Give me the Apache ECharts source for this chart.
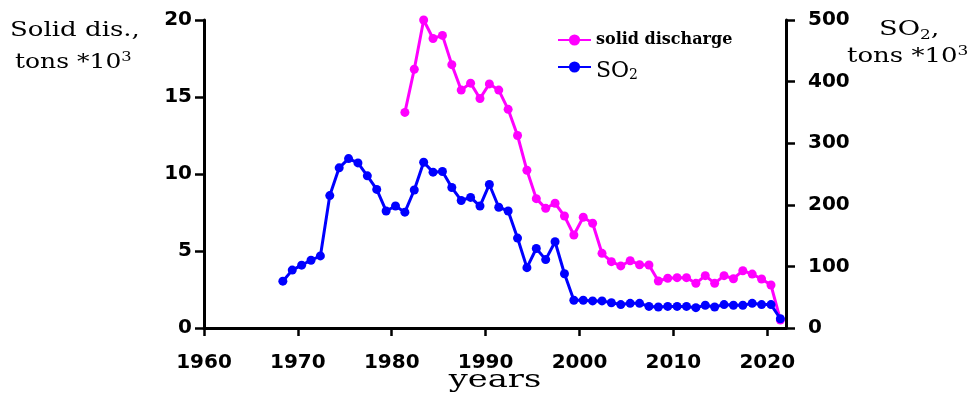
<!DOCTYPE html>
<html>
<head>
<meta charset="utf-8">
<script src="https://cdn.jsdelivr.net/npm/echarts@6/dist/echarts.min.js"></script>
<style>html,body{margin:0;padding:0;background:#fff}#c{width:972px;height:394px}</style>
</head>
<body>
<div id="c"></div>
<script>
// ---- data ----
const so2Years = [1968,1969,1970,1971,1972,1973,1974,1975,1976,1977,1978,1979,1980,1981,1982,1983,1984,1985,1986,1987,1988,1989,1990,1991,1992,1993,1994,1995,1996,1997,1998,1999,2000,2001,2002,2003,2004,2005,2006,2007,2008,2009,2010,2011,2012,2013,2014,2015,2016,2017,2018,2019,2020,2021];
const so2Values = [76,94,102,110,117,215,260,275,268,247,225,190,198,188,224,269,253,254,228,207,212,198,233,196,190,146,98,129,111,140,88,45,45,44,44,41,38,40,40,35,34,35,35,35,33,37,34,38,37,37,40,38,38,15];
const solidYears = [1981,1982,1983,1984,1985,1986,1987,1988,1989,1990,1991,1992,1993,1994,1995,1996,1997,1998,1999,2000,2001,2002,2003,2004,2005,2006,2007,2008,2009,2010,2011,2012,2013,2014,2015,2016,2017,2018,2019,2020,2021];
const solidValues = [14.0,16.8,20.0,18.8,19.0,17.1,15.45,15.9,14.9,15.85,15.45,14.2,12.5,10.24,8.4,7.77,8.1,7.27,6.04,7.19,6.8,4.85,4.31,4.03,4.37,4.11,4.09,3.05,3.23,3.27,3.27,2.9,3.4,2.9,3.4,3.2,3.72,3.5,3.18,2.79,0.52];
const xTicks = {min:1960, max:2022, interval:10};
const leftTicks = {min:0, max:20, interval:5};
const rightTicks = {min:0, max:500, interval:100};

const chart = echarts.init(document.getElementById('c'), null, {renderer:'canvas'});
const tickFont = {fontFamily:'DejaVu Sans', fontWeight:'bold', fontSize:20, color:'#000'};
const serif = 'DejaVu Serif';
const axisLine = {show:true, lineStyle:{color:'#000', width:3}};
const axisTick = {show:true, length:9, lineStyle:{color:'#000', width:2.5}};

chart.setOption({
  animation:false,
  backgroundColor:'#fff',
  grid:{left:204, right:186, top:20, bottom:66, containLabel:false},
  xAxis:[
    {type:'value', min:xTicks.min, max:xTicks.max, interval:xTicks.interval,
     axisLine:axisLine, axisTick:{show:true,length:8,lineStyle:{color:'#000',width:2.5}},
     splitLine:{show:false},
     axisLabel:Object.assign({margin:25, showMaxLabel:false, formatter:v=>String(v)}, tickFont)},
    {type:'value', min:xTicks.min-0.4, max:xTicks.max-0.4, show:false}
  ],
  yAxis:[
    {type:'value', position:'left', min:leftTicks.min, max:leftTicks.max, interval:leftTicks.interval,
     axisLine:axisLine, axisTick:axisTick, splitLine:{show:false},
     axisLabel:Object.assign({margin:12}, tickFont)},
    {type:'value', position:'right', min:rightTicks.min, max:rightTicks.max, interval:rightTicks.interval,
     axisLine:axisLine, axisTick:axisTick, splitLine:{show:false},
     axisLabel:Object.assign({margin:22}, tickFont)}
  ],
  legend:[
    {data:['solid discharge'], left:557, top:32, padding:0, itemWidth:33, itemHeight:14,
     formatter:()=>'{c|solid discharge}',
     textStyle:{rich:{c:{fontFamily:serif, fontWeight:'bold', fontSize:16, color:'#000', lineHeight:20}}}},
    {data:['SO2'], left:557, top:52, padding:0, itemWidth:33, itemHeight:14,
     formatter:()=>'{a|SO}{b|2}',
     textStyle:{rich:{a:{fontFamily:serif, fontSize:22, color:'#000', lineHeight:20, padding:[8,0,0,0]},
                      b:{fontFamily:serif, fontSize:14, color:'#000', lineHeight:20, padding:[16,0,0,0]}}}}
  ],
  series:[
    {name:'solid discharge', type:'line', xAxisIndex:1, yAxisIndex:0,
     data:solidYears.map((y,i)=>[y, solidValues[i]]),
     symbol:'circle', symbolSize:9, showAllSymbol:true,
     lineStyle:{color:'#ff00ff', width:3}, itemStyle:{color:'#ff00ff'}, z:2},
    {name:'SO2', type:'line', xAxisIndex:1, yAxisIndex:1,
     data:so2Years.map((y,i)=>[y, so2Values[i]]),
     symbol:'circle', symbolSize:9, showAllSymbol:true,
     lineStyle:{color:'#0000ff', width:3}, itemStyle:{color:'#0000ff'}, z:3}
  ],
  graphic:[
    {type:'text', x:10, y:21, scaleX:1.3, style:{text:'Solid dis.,', font:'20px "DejaVu Serif"', fill:'#000'}},
    {type:'text', x:15, y:49, scaleX:1.25, style:{text:'{a|tons *10}{s|3}', fill:'#000',
      rich:{a:{fontFamily:serif, fontSize:20, lineHeight:24, padding:[4,0,0,0]}, s:{fontFamily:serif, fontSize:13, lineHeight:24, padding:[0,0,6,0]}}}},
    {type:'text', x:879, y:17, scaleX:1.3, style:{text:'{a|SO}{b|2}{a|,}', fill:'#000',
      rich:{a:{fontFamily:serif, fontSize:21, lineHeight:26, padding:[0,0,0,0]}, b:{fontFamily:serif, fontSize:13, lineHeight:26, padding:[12,0,0,0]}}}},
    {type:'text', x:847, y:43, scaleX:1.3, style:{text:'{a|tons *10}{s|3}', fill:'#000',
      rich:{a:{fontFamily:serif, fontSize:20, lineHeight:24, padding:[4,0,0,0]}, s:{fontFamily:serif, fontSize:13, lineHeight:24, padding:[0,0,6,0]}}}},
    {type:'text', x:495, y:368, scaleX:1.35, style:{text:'years', font:'25px "DejaVu Serif"', fill:'#000', textAlign:'center'}}
  ]
});
</script>
</body>
</html>
